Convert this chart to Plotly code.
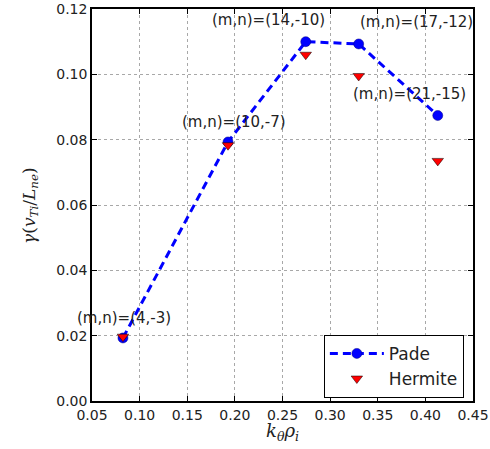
import plotly.graph_objects as go

k_rho = [0.0825, 0.1928, 0.2744, 0.3300, 0.4130]
gamma_pade = [0.0193, 0.0793, 0.1100, 0.1093, 0.0874]
gamma_hermite = [0.0197, 0.0783, 0.1060, 0.0995, 0.0735]
mode_labels = ["(m,n)=(4,-3)", "(m,n)=(10,-7)", "(m,n)=(14,-10)", "(m,n)=(17,-12)", "(m,n)=(21,-15)"]

x_ticks = [0.05, 0.10, 0.15, 0.20, 0.25, 0.30, 0.35, 0.40, 0.45]
y_ticks = [0.00, 0.02, 0.04, 0.06, 0.08, 0.10, 0.12]

# label offsets from each Pade point (pixels)
label_xshift = [-48, -48, -96, -1, -87]
label_yshift = [20, 20, 22, 22, 21]

font = "DejaVu Sans, sans-serif"
serif = "DejaVu Serif, serif"

fig = go.Figure()
fig.add_trace(go.Scatter(
    x=k_rho, y=gamma_pade, mode="lines+markers", name="Pade",
    line=dict(color="#0000ff", width=3, dash="8px,5px"),
    marker=dict(symbol="circle", size=10, color="#0000ff", line=dict(color="#000080", width=0.5)),
))
fig.add_trace(go.Scatter(
    x=k_rho, y=gamma_hermite, mode="markers", name="Hermite",
    marker=dict(symbol="triangle-down", size=10, color="#ff0000", line=dict(color="#000000", width=0.5)),
))

for x, y, t, dx, dy in zip(k_rho, gamma_pade, mode_labels, label_xshift, label_yshift):
    fig.add_annotation(x=x, y=y, text=t, showarrow=False,
                       xanchor="left", yanchor="middle", xshift=dx, yshift=dy,
                       font=dict(family=font, size=15, color="#222222"))

# axis titles
fig.add_annotation(xref="paper", yref="paper", x=0.5, y=-0.078, yanchor="middle", xanchor="center",
                   text="<i>k</i><sub><i>θ</i></sub><i>ρ</i><sub><i>i</i></sub>",
                   showarrow=False, font=dict(family=serif, size=18, color="#222222"))
fig.add_annotation(xref="paper", yref="paper", x=-0.163, y=0.5, textangle=-90,
                   xanchor="center", yanchor="middle",
                   text="<i>γ</i>(<i>v</i><sub><i>Ti</i></sub>/<i>L</i><sub><i>ne</i></sub>)",
                   showarrow=False, font=dict(family=serif, size=17, color="#222222"))

axis_common = dict(
    showgrid=True, gridcolor="#a8a8a8", griddash="dot", gridwidth=1,
    showline=True, linecolor="#000000", linewidth=1.5, mirror="ticks",
    ticks="inside", ticklen=5, tickcolor="#000000", automargin=False,
    zeroline=False, tickfont=dict(family=font, size=14, color="#222222"),
)

fig.update_xaxes(range=[0.05, 0.45], tickvals=x_ticks,
                 ticktext=[f"{v:.2f}" for v in x_ticks], **axis_common)
fig.update_yaxes(range=[0.0, 0.12], tickvals=y_ticks,
                 ticktext=[f"{v:.2f}" for v in y_ticks], **axis_common)

fig.update_layout(
    width=490, height=449,
    margin=dict(l=92, r=17, t=9, b=48),
    paper_bgcolor="white", plot_bgcolor="white",
    showlegend=True,
    legend=dict(x=0.976, y=0.008, xanchor="right", yanchor="bottom",
                bgcolor="white", bordercolor="#000000", borderwidth=1,
                font=dict(family=font, size=17, color="#222222"),
                itemwidth=54, tracegroupgap=0),
)

fig.write_html("out.html", config={"displayModeBar": False},
               post_script="document.body.style.margin='0';")
